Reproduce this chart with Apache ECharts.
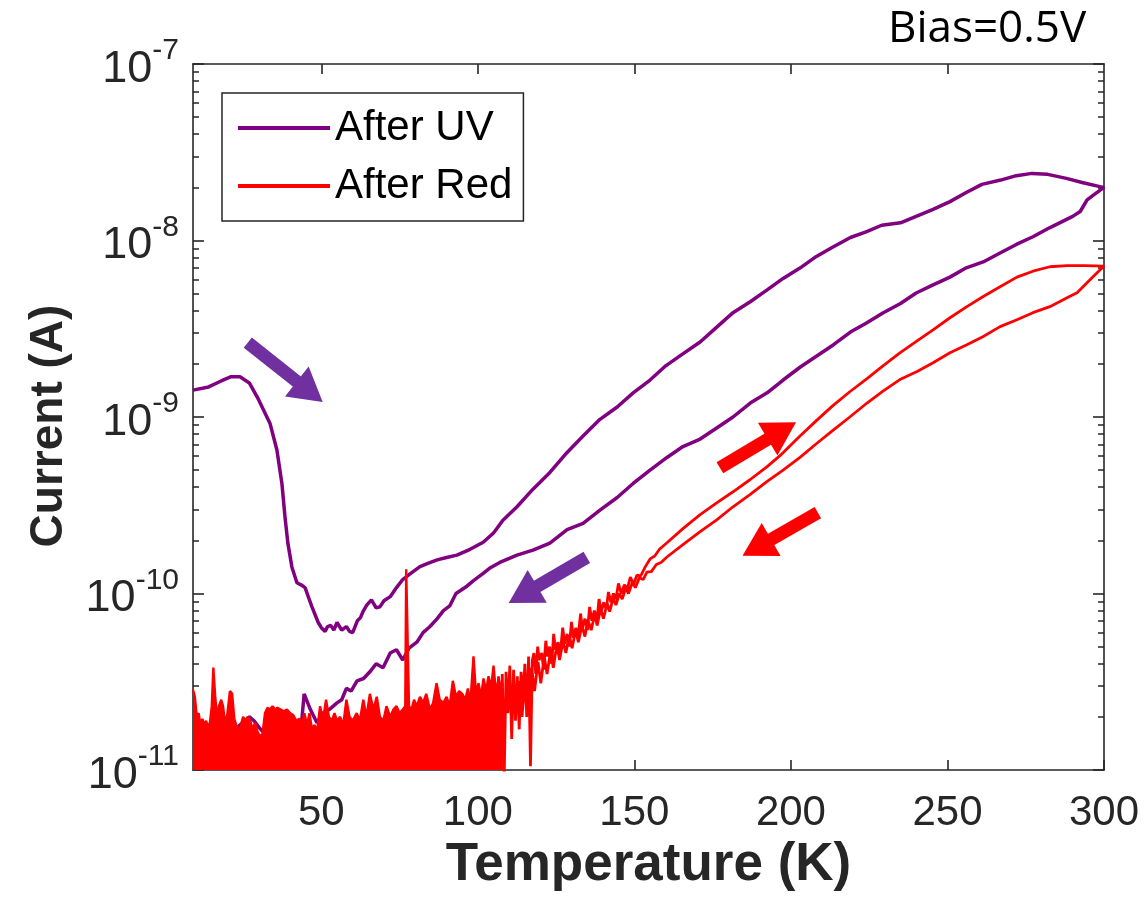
<!DOCTYPE html>
<html>
<head>
<meta charset="utf-8">
<script src="https://cdn.jsdelivr.net/npm/echarts@6/dist/echarts.min.js"></script>
<style>
html,body{margin:0;padding:0;background:#fff;}
#chart{width:1144px;height:912px;}
</style>
</head>
<body>
<div id="chart"></div>
<script>
// ---------- data (Temperature K, Current A) ----------
const uvHeat = [
  [9,1.42e-9],[14,1.48e-9],[18,1.6e-9],[21,1.69e-9],[24,1.69e-9],[27,1.56e-9],[30,1.25e-9],
  [33.6,9.2e-10],[35.8,6.5e-10],[37.4,4.2e-10],[38.4,2.7e-10],[39.3,1.93e-10],[40.6,1.41e-10],
  [42.2,1.15e-10],[43.5,1.12e-10],[44.8,1.08e-10],[46,9.4e-11],[47,8.4e-11],[49,6.85e-11],[50,6.4e-11],
  [51.2,6.1e-11],[52,6.5e-11],[53,6.6e-11],[54,6.2e-11],[55,6.85e-11],[56.5,6.2e-11],[58,6.5e-11],
  [59,6.1e-11],[60,6e-11],[61.5,7e-11],[62.5,7.3e-11],[63.3,7.9e-11],[64.5,8.6e-11],[66,9.2e-11],
  [67.5,8.3e-11],[68.7,8.4e-11],[70,9.1e-11],[72,9.6e-11],[74,1.08e-10],[76,1.2e-10],[78,1.28e-10],
  [81.5,1.42e-10],[84,1.48e-10],[87,1.55e-10],[90,1.6e-10],[93.3,1.65e-10],[97.5,1.78e-10],
  [101.7,1.95e-10],[105,2.2e-10],[108,2.6e-10],[112.5,3.1e-10],[117.6,3.9e-10],[123,4.85e-10],
  [128.5,6.3e-10],[133.6,7.8e-10],[139,9.7e-10],[144.5,1.14e-9],[149.6,1.37e-9],[155,1.62e-9],
  [160,1.95e-9],[165,2.25e-9],[171,2.66e-9],[176.4,3.24e-9],[181.5,3.9e-9],[187,4.5e-9],
  [192.4,5.25e-9],[197.5,6.1e-9],[203,7e-9],[208,8.1e-9],[213,9.1e-9],[219,1.04e-8],[224,1.12e-8],
  [229,1.22e-8],[235,1.26e-8],[240,1.37e-8],[245.4,1.5e-8],[250.8,1.66e-8],[256,1.87e-8],
  [261,2.08e-8],[267,2.2e-8],[272,2.33e-8],[277,2.4e-8],[282,2.37e-8],[288,2.25e-8],[293,2.13e-8],
  [298.7,2.02e-8],[300,2.0e-8]
];
const uvCool = [
  [299.4,1.95e-8],[296.5,1.8e-8],[294.6,1.7e-8],[292.4,1.46e-8],[290,1.37e-8],[282.6,1.18e-8],
  [277.3,1.05e-8],[272,9.5e-9],[266.8,8.5e-9],[261.4,7.56e-9],[256,7e-9],[250.8,6.2e-9],
  [245.4,5.6e-9],[240,5.04e-9],[235,4.4e-9],[229.5,3.9e-9],[224,3.4e-9],[219,3.03e-9],
  [213.5,2.56e-9],[208,2.2e-9],[203,1.92e-9],[197.5,1.62e-9],[192.4,1.37e-9],[187,1.2e-9],
  [181.5,1.0e-9],[176.4,8.7e-10],[171,7.5e-10],[165.5,6.8e-10],[160.4,5.9e-10],[155,5e-10],
  [149.6,4.2e-10],[144.5,3.5e-10],[139,2.97e-10],[133.6,2.5e-10],[128.5,2.3e-10],[123,1.93e-10],
  [117.6,1.76e-10],[112.5,1.65e-10],[107,1.5e-10],[104,1.4e-10],[101.7,1.3e-10],[98.5,1.18e-10],
  [96.5,1.1e-10],[93,1e-10],[91,8.5e-11],[89,8e-11],[87,7.2e-11],[84.7,6.5e-11],[82.5,6.0e-11],
  [80.5,5.3e-11],[78,4.9e-11],[76,4.2e-11],[74,4.8e-11],[72,4.6e-11],[69.7,3.8e-11],[67.5,4.0e-11],
  [65.5,3.6e-11],[63.5,3.3e-11],[61.4,3.2e-11],[59.5,2.8e-11],[58,2.9e-11],[56.5,2.5e-11],
  [55,2.4e-11],[52.5,2.2e-11],[50.5,2.1e-11],[48.6,1.85e-11],[46.5,2.2e-11],[44.5,2.7e-11],
  [43.5,1.7e-11],[42,1.8e-11],[40,1.75e-11],[37,1.6e-11],[34.5,1.65e-11],[32,1.6e-11],[30,1.75e-11],
  [28.5,1.9e-11],[27,2e-11],[25.5,1.9e-11],[24,1.8e-11],[21,1.55e-11],[18,1.5e-11],[15,1.45e-11],
  [12,1.4e-11],[9,1.4e-11]
];
const redFloorNoise = [
  [9,2.85e-11],[9.6,2.6e-11],[10.2,2.0e-11],[10.8,2.1e-11],[11.4,1.8e-11],[12,1.95e-11],[12.6,1.8e-11],
  [13.2,1.9e-11],[13.8,1.75e-11],[14.4,1.85e-11],[15,2.3e-11],[15.5,3.8e-11],[16.1,2.6e-11],
  [16.7,2.0e-11],[17.3,2.3e-11],[18,2.5e-11],[18.6,2.3e-11],[19.3,1.8e-11],[20,2.1e-11],[20.8,2.8e-11],
  [21.5,2.7e-11],[22.2,1.95e-11],[23,1.75e-11],[23.6,1.7e-11],[24.3,1.8e-11],[25,2.0e-11],[25.8,1.9e-11],
  [26.5,2.0e-11],[27.3,1.9e-11],[28,1.7e-11],[28.8,1.85e-11],[29.6,1.65e-11],[30.4,1.55e-11],
  [31.2,1.6e-11],[32,2.1e-11],[32.8,2.25e-11],[33.6,2.2e-11],[34.4,2.3e-11],[35.2,2.2e-11],[36,2.25e-11],
  [37,2.2e-11],[38,2.15e-11],[39,2.2e-11],[40,2.1e-11],[41,2.05e-11],[42,1.9e-11],[43,1.95e-11],
  [43.8,1.8e-11],[44.6,2.1e-11],[45.4,1.8e-11],[46.2,2.1e-11],[47,1.7e-11],[47.8,1.8e-11],[48.6,1.65e-11],
  [49.6,2.3e-11],[50.5,1.9e-11],[51.5,2.5e-11],[52.4,2.0e-11],[53.3,1.9e-11],[54.2,2.1e-11],[55,1.9e-11],
  [56,2.0e-11],[57,1.8e-11],[58,2.5e-11],[59,2.0e-11],[60,1.9e-11],[61.3,2.1e-11],[62.3,1.9e-11],
  [63.4,2.5e-11],[64.4,2.0e-11],[65.5,2.7e-11],[66.6,2.2e-11],[67.7,2.6e-11],[68.7,2.0e-11],
  [69.8,1.9e-11],[70.8,2.3e-11],[72,2.0e-11],[73,2.2e-11],[74,2.3e-11],[75,2.1e-11],[76,2.2e-11],
  [76.8,2.3e-11],[77.1,1.37e-10],[77.7,1.37e-10],[78,2.3e-11],[78.8,2.2e-11],[79.6,2.5e-11],
  [80.5,2.3e-11],[81.5,2.6e-11],[82.5,2.4e-11],[83.5,2.7e-11],[84.7,2.2e-11],[85.7,2.4e-11],
  [86.8,3.1e-11],[87.8,2.5e-11],[89,2.4e-11],[90,2.6e-11],[91,2.3e-11],[92,3.2e-11],[93,2.6e-11],
  [94,2.8e-11],[95,2.7e-11],[96,2.5e-11],[96.8,2.9e-11],[97.6,2.4e-11],[98.6,4.4e-11],[99.4,2.7e-11],
  [100.2,3.1e-11],[101,2.6e-11],[101.8,3.3e-11],[102.6,2.8e-11],[103.4,3.4e-11],[104.2,2.9e-11],
  [105,3.9e-11],[105.8,2.7e-11],[106.6,3.3e-11],[107.4,2.9e-11],[108,3.1e-11]
];
const redHeat = [
  [106,1.6e-11],[106.6,3.4e-11],[107.2,1.3e-11],[107.8,3.5e-11],[108.4,9e-12],[109,3.6e-11],
  [109.6,2.1e-11],[110.2,3.9e-11],[110.8,1.5e-11],[111.4,3.7e-11],[112,1.9e-11],[112.6,3.4e-11],
  [113.2,1.7e-11],[113.8,3.6e-11],[114.4,2.5e-11],[115,4.0e-11],[115.6,2.0e-11],[116.2,4.4e-11],
  [116.8,1.05e-11],[117.4,4.2e-11],[117.9,4.6e-11],[118.5,3.5e-11],[119.1,5.0e-11],[119.6,4.2e-11],
  [120.4,4.6e-11],[121,3.7e-11],[121.7,5.4e-11],[122.2,4.4e-11],[122.9,5.0e-11],[123.6,4.0e-11],
  [124.2,5.9e-11],[124.8,4.8e-11],[125.6,5.3e-11],[126.3,4.5e-11],[127.1,6.4e-11],[127.7,5.2e-11],
  [128.5,5.9e-11],[129.2,5.0e-11],[129.9,6.9e-11],[130.5,5.6e-11],[131.3,6.4e-11],[132,5.6e-11],
  [132.8,7.7e-11],[133.4,6.3e-11],[134.2,7.2e-11],[135,6.2e-11],[135.7,8.4e-11],[136.4,7.0e-11],
  [137.2,8.0e-11],[138,7.0e-11],[138.7,9.3e-11],[139.4,7.9e-11],[140.2,8.9e-11],[141,8.1e-11],
  [141.7,1.02e-10],[142.5,8.9e-11],[143.3,1.0e-10],[144.1,9.3e-11],[144.9,1.14e-10],[145.8,1.0e-10],
  [146.8,1.12e-10],[147.7,1.06e-10],[148.7,1.24e-10],[149.7,1.13e-10],[150.8,1.27e-10],[152,1.26e-10],
  [153.5,1.42e-10],[155,1.57e-10],[156.5,1.63e-10],[158,1.78e-10],
  [160.4,1.94e-10],[165.5,2.33e-10],[171,2.8e-10],[176.4,3.27e-10],[181.5,3.77e-10],
  [186.9,4.41e-10],[192.4,5.23e-10],[196.5,6.04e-10],[202.9,7.8e-10],[208.3,9.6e-10],[213.4,1.16e-9],
  [218.8,1.39e-9],[224.3,1.65e-9],[229.4,1.95e-9],[234.8,2.31e-9],[240.3,2.7e-9],[245.4,3.12e-9],
  [250.8,3.65e-9],[256.2,4.22e-9],[261.3,4.8e-9],[266.8,5.47e-9],[272.2,6.2e-9],[277.3,6.7e-9],
  [282.7,7.1e-9],[288.2,7.2e-9],[293.9,7.2e-9],[300,7.15e-9]
];
const redCool = [
  [298.7,6.8e-9],[296.5,6.23e-9],[293.3,5.47e-9],[291.4,5.06e-9],[288.2,4.74e-9],[282.7,4.22e-9],
  [277.3,3.9e-9],[272.2,3.56e-9],[266.8,3.25e-9],[261.3,2.85e-9],[256.2,2.57e-9],[250.8,2.31e-9],
  [245.4,2.03e-9],[240.3,1.81e-9],[234.8,1.63e-9],[229.4,1.4e-9],[224.3,1.2e-9],[218.8,1.0e-9],
  [213.4,8.4e-10],[208.3,7.1e-10],[202.9,5.9e-10],[197.5,5.0e-10],[192.3,4.3e-10],[186.9,3.63e-10],
  [181.5,3.1e-10],[176.4,2.62e-10],[171,2.24e-10],[165.5,1.89e-10],[160.4,1.61e-10],[158.5,1.5e-10],
  [157,1.46e-10],[155.4,1.33e-10],[154,1.32e-10],[152.8,1.2e-10],[151.6,1.23e-10],[150.3,1.08e-10],
  [149.3,1.15e-10],[148.1,1.0e-10],[147.2,1.07e-10],[146.1,9.3e-11],[145.2,1.0e-10],[144.1,8.6e-11],
  [143.2,9.4e-11],[142.1,7.9e-11],[141.3,8.8e-11],[140.1,7.2e-11],[139.2,8.2e-11],[138.1,6.6e-11],
  [137.3,7.6e-11],[136.2,6.2e-11],[135.1,7.1e-11],[134.2,5.7e-11],[133.2,6.6e-11],[132.1,5.3e-11],
  [131.2,6.2e-11],[130.1,4.9e-11],[129.2,5.8e-11],[128.1,4.6e-11],[127.2,5.4e-11],[126.1,4.2e-11],
  [125.2,5.1e-11],[124.1,3.8e-11],[123.2,4.7e-11],[122.1,3.5e-11],[121.2,4.4e-11],[120.1,3.1e-11],
  [119.2,4.1e-11],[118.1,2.8e-11],[117.2,3.8e-11],[116.1,2.4e-11],[115.2,3.5e-11],[114.1,2.0e-11],
  [113,3.2e-11]
];
const xTickValues = [50, 100, 150, 200, 250, 300];
const xTopTickValues = [50, 100, 150, 200, 250];
const yDecades = [1e-11, 1e-10, 1e-9, 1e-8, 1e-7];
const yMinor = [
  2e-11,3e-11,4e-11,5e-11,6e-11,7e-11,8e-11,9e-11,
  2e-10,3e-10,4e-10,5e-10,6e-10,7e-10,8e-10,9e-10,
  2e-9,3e-9,4e-9,5e-9,6e-9,7e-9,8e-9,9e-9,
  2e-8,3e-8,4e-8,5e-8,6e-8,7e-8,8e-8,9e-8
];
// annotation arrows: [tail, head] in (K, A)
const uvArrows = [[[26.5,2.64e-9],[46.3,1.39e-9]], [[134.8,1.6e-10],[114.4,9.85e-11]]];
const redArrows = [[[177.3,5.16e-10],[197.1,8.36e-10]], [[208.6,2.87e-10],[189.1,1.82e-10]]];

// ---------- chart ----------
const FONT = "'Liberation Sans', Arial, Helvetica, sans-serif";
const AX = '#262626';
const chart = echarts.init(document.getElementById('chart'), null, {renderer: 'canvas'});

function arrowLines(list) {
  return list.map(a => [
    {coord: a[0], symbol: 'none'},
    {coord: a[1], symbol: 'triangle'}
  ]);
}

const xBase = {type: 'value', min: 9, max: 300, splitLine: {show: false}};
const yBase = {type: 'log', logBase: 10, min: 1e-11, max: 1e-7, splitLine: {show: false}, minorTick: {show: false}};

const option = {
  animation: false,
  backgroundColor: '#ffffff',
  title: {
    text: 'Bias=0.5V', left: 883, top: 2,
    textStyle: {fontFamily: "'Open Sans', 'Noto Sans', sans-serif", fontWeight: 'normal', fontSize: 44, color: '#000'}
  },
  grid: {left: 193, right: 40, top: 64, bottom: 142, containLabel: false},
  legend: {
    data: ['After UV', 'After Red'],
    orient: 'vertical', left: 222, top: 93,
    icon: 'rect', itemWidth: 92, itemHeight: 4, itemGap: 16,
    padding: [14, 11, 14, 16],
    borderColor: AX, borderWidth: 1.5, backgroundColor: '#fff',
    textStyle: {fontFamily: FONT, fontSize: 42, lineHeight: 40, color: '#000'}
  },
  xAxis: [
    Object.assign({}, xBase, {
      position: 'bottom',
      name: 'Temperature (K)', nameLocation: 'middle', nameGap: 55,
      nameTextStyle: {fontFamily: FONT, fontWeight: 'bold', fontSize: 53, color: AX},
      axisLine: {show: true, lineStyle: {color: AX, width: 1.6}},
      axisTick: {show: true, inside: true, length: 10, customValues: xTickValues, lineStyle: {color: AX, width: 1.6}},
      axisLabel: {show: true, customValues: xTickValues, margin: 22, fontFamily: FONT, fontSize: 42, color: AX}
    }),
    Object.assign({}, xBase, {
      position: 'top',
      axisLine: {show: true, lineStyle: {color: AX, width: 1.6}},
      axisTick: {show: true, inside: true, length: 10, customValues: xTopTickValues, lineStyle: {color: AX, width: 1.6}},
      axisLabel: {show: false}
    })
  ],
  yAxis: [
    Object.assign({}, yBase, {
      position: 'left',
      name: 'Current (A)', nameLocation: 'middle', nameGap: 121, nameRotate: 90,
      nameTextStyle: {fontFamily: FONT, fontWeight: 'bold', fontSize: 46, color: AX, padding: [0, 18, 0, 0]},
      axisLine: {show: true, lineStyle: {color: AX, width: 1.6}},
      axisTick: {show: true, inside: true, length: 11, customValues: yDecades, lineStyle: {color: AX, width: 1.6}},
      axisLabel: {
        show: true, customValues: yDecades, margin: 14,
        formatter: v => '{b|10}{s|' + Math.round(Math.log10(v)) + '}',
        rich: {
          b: {fontFamily: FONT, fontSize: 45, lineHeight: 56, verticalAlign: 'bottom', color: AX},
          s: {fontFamily: FONT, fontSize: 30, lineHeight: 30, verticalAlign: 'top', color: AX}
        }
      }
    }),
    Object.assign({}, yBase, {
      position: 'right',
      axisLine: {show: true, lineStyle: {color: AX, width: 1.6}},
      axisTick: {show: true, inside: true, length: 11, customValues: yDecades, lineStyle: {color: AX, width: 1.6}},
      axisLabel: {show: false}
    }),
    Object.assign({}, yBase, {
      position: 'left',
      axisLine: {show: false},
      axisTick: {show: true, inside: true, length: 6, customValues: yMinor, lineStyle: {color: AX, width: 1.5}},
      axisLabel: {show: false}
    }),
    Object.assign({}, yBase, {
      position: 'right',
      axisLine: {show: false},
      axisTick: {show: true, inside: true, length: 6, customValues: yMinor, lineStyle: {color: AX, width: 1.5}},
      axisLabel: {show: false}
    })
  ],
  series: [
    {
      name: 'After UV', type: 'line', xAxisIndex: 0, yAxisIndex: 0, z: 2,
      data: uvHeat.concat(uvCool),
      showSymbol: false, symbol: 'none',
      lineStyle: {color: '#800080', width: 3.5},
      itemStyle: {color: '#800080'},
      markLine: {
        silent: true, symbolSize: [38, 33], animation: false,
        label: {show: false},
        lineStyle: {color: '#7030a0', width: 13, type: 'solid'},
        itemStyle: {color: '#7030a0'},
        data: arrowLines(uvArrows)
      }
    },
    {
      name: 'After Red', type: 'line', xAxisIndex: 0, yAxisIndex: 0, z: 3,
      data: redFloorNoise,
      showSymbol: false, symbol: 'none',
      lineStyle: {color: '#ff0000', width: 2.4},
      itemStyle: {color: '#ff0000'},
      areaStyle: {color: '#ff0000', opacity: 1, origin: 'start'}
    },
    {
      name: 'After Red', type: 'line', xAxisIndex: 0, yAxisIndex: 0, z: 3,
      data: redHeat.concat(redCool),
      showSymbol: false, symbol: 'none',
      lineStyle: {color: '#ff0000', width: 2.8},
      itemStyle: {color: '#ff0000'},
      markLine: {
        silent: true, symbolSize: [38, 33], animation: false,
        label: {show: false},
        lineStyle: {color: '#ff0000', width: 13, type: 'solid'},
        itemStyle: {color: '#ff0000'},
        data: arrowLines(redArrows)
      }
    }
  ]
};
chart.setOption(option);
</script>
</body>
</html>
